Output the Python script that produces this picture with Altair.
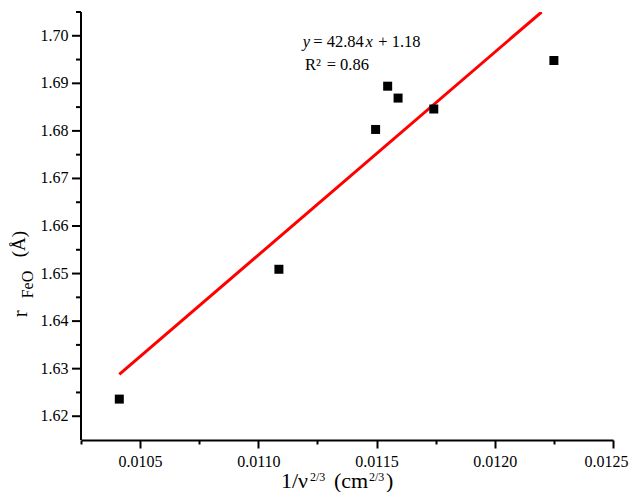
import altair as alt
import pandas as pd

FONT = "Liberation Serif"

# data
x_vals = [0.010412, 0.011087, 0.011496, 0.011547, 0.011591, 0.011742, 0.012250]
y_vals = [1.6236, 1.6509, 1.6803, 1.6894, 1.6869, 1.6846, 1.6948]
fit_x = [0.010412, 0.012198]
fit_y = [1.6288, 1.7050]
x_ticks = [0.01025, 0.0105, 0.01075, 0.0110, 0.01125, 0.0115, 0.01175, 0.0120, 0.01225, 0.0125]
y_major = [1.62, 1.63, 1.64, 1.65, 1.66, 1.67, 1.68, 1.69, 1.70]
y_minor = [1.625, 1.635, 1.645, 1.655, 1.665, 1.675, 1.685, 1.695, 1.705]
x_domain = [0.01025, 0.0125]
y_domain = [1.615, 1.705]

pts = pd.DataFrame({"x": x_vals, "y": y_vals})
fit = pd.DataFrame({"x": fit_x, "y": fit_y})
ymajor_df = pd.DataFrame({"v": y_major, "lab": [f"{v:.2f}" for v in y_major]})
yminor_df = pd.DataFrame({"v": y_minor})
ydom_df = pd.DataFrame({"lo": [y_domain[0]], "hi": [y_domain[1]]})

x_major_test = "abs(datum.value*2000 - round(datum.value*2000)) < 0.001"

x_axis = alt.Axis(
    values=x_ticks, title=None, grid=False,
    labelExpr=f"{x_major_test} ? format(datum.value, '.4f') : ''",
    labelFont=FONT, labelFontSize=16, labelColor="black", labelPadding=5,
    labelOverlap=False, labelFlush=True, labelFlushOffset=15,
    tickSize={"condition": {"test": x_major_test, "value": 8}, "value": 4},
    tickWidth=2, tickColor="black", domainWidth=2, domainColor="black",
)

xs = alt.Scale(domain=x_domain, nice=False, zero=False)
ys = alt.Scale(domain=y_domain, nice=False, zero=False)

points = alt.Chart(pts).mark_square(size=81, color="black", opacity=1).encode(
    x=alt.X("x:Q", scale=xs, axis=x_axis),
    y=alt.Y("y:Q", scale=ys, axis=None),
)
line = alt.Chart(fit).mark_line(color="#ff0000", strokeWidth=3, clip=True).encode(
    x=alt.X("x:Q", scale=xs, axis=x_axis),
    y=alt.Y("y:Q", scale=ys, axis=None),
)

# left axis: domain line, ticks and labels through the y scale
ydomain = alt.Chart(ydom_df).mark_rule(color="black", strokeWidth=2).encode(
    y=alt.Y("lo:Q", scale=ys, axis=None), y2="hi:Q", x=alt.value(0),
)
ymajor = alt.Chart(ymajor_df).mark_rule(color="black", strokeWidth=2).encode(
    y=alt.Y("v:Q", scale=ys, axis=None), x=alt.value(-9), x2=alt.value(0),
)
yminor = alt.Chart(yminor_df).mark_rule(color="black", strokeWidth=2).encode(
    y=alt.Y("v:Q", scale=ys, axis=None), x=alt.value(-5), x2=alt.value(0),
)
ylabels = alt.Chart(ymajor_df).mark_text(
    align="right", baseline="middle", font=FONT, fontSize=16, color="black",
).encode(
    y=alt.Y("v:Q", scale=ys, axis=None), x=alt.value(-12.5), text="lab:N",
)


def label(text, x, y, size, angle=0, italic=False):
    return alt.Chart(pd.DataFrame({"t": [text]})).mark_text(
        align="left", baseline="alphabetic", font=FONT, fontSize=size,
        angle=angle, fontStyle="italic" if italic else "normal", color="black",
    ).encode(text="t:N", x=alt.value(x), y=alt.value(y))


texts = [
    # equation
    label("y", 221.7, 35, 16.5, italic=True),
    label("= 42.84", 232.3, 35, 16.5),
    label("x", 284.5, 35, 16.5, italic=True),
    label("+ 1.18", 297.3, 35, 16.5),
    label("R²", 224, 58.3, 16.5),
    label("=", 245.7, 58.3, 16.5),
    label("0.86", 259, 58.3, 16.5),
    # y title
    label("r", -54, 305.3, 21, angle=270),
    label("FeO", -48, 286.3, 16, angle=270),
    label("(Å)", -56, 245.3, 19, angle=270),
    # x title
    label("1/ν", 200, 476, 22),
    label("2/3", 229, 469, 12),
    label("(cm", 253, 476, 22),
    label("2/3", 288, 469, 12),
    label(")", 305, 476, 22),
]

chart = alt.layer(line, points, ydomain, ymajor, yminor, ylabels, *texts).properties(
    width=532, height=428,
    autosize=alt.AutoSizeParams(type="none"),
    padding={"left": 73, "top": 4, "right": 16, "bottom": 52},
).configure_view(stroke=None)

chart.save("out.html", embed_options={"renderer": "svg", "actions": False})
